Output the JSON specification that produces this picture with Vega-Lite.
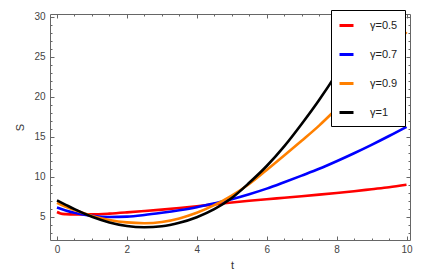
{
  "$schema": "https://vega.github.io/schema/vega-lite/v6.json",
  "autosize": "none",
  "width": 360,
  "height": 226,
  "padding": {"left": 50, "top": 14, "right": 15, "bottom": 34},
  "background": "white",
  "config": {
    "view": {"stroke": null},
    "font": "Liberation Sans",
    "axis": {
      "domainColor": "#666666",
      "domainWidth": 1,
      "tickColor": "#666666",
      "labelColor": "#444444",
      "labelFont": "Liberation Sans",
      "labelFontSize": 10,
      "titleFont": "Liberation Sans",
      "titleFontSize": 11,
      "titleFontWeight": "normal",
      "titleColor": "#333333",
      "grid": false,
      "labelOverlap": false
    }
  },
  "datasets": {
    "curves": [
      {"t": 0, "S": 5.6, "g": "γ=0.5"}, {"t": 0.1, "S": 5.42, "g": "γ=0.5"}, {"t": 0.25, "S": 5.33, "g": "γ=0.5"}, {"t": 0.5, "S": 5.28, "g": "γ=0.5"}, {"t": 1, "S": 5.3, "g": "γ=0.5"}, {"t": 1.5, "S": 5.4, "g": "γ=0.5"}, {"t": 2, "S": 5.55, "g": "γ=0.5"}, {"t": 2.5, "S": 5.72, "g": "γ=0.5"}, {"t": 3, "S": 5.9, "g": "γ=0.5"}, {"t": 3.5, "S": 6.1, "g": "γ=0.5"}, {"t": 4, "S": 6.32, "g": "γ=0.5"}, {"t": 4.5, "S": 6.55, "g": "γ=0.5"}, {"t": 5, "S": 6.78, "g": "γ=0.5"}, {"t": 5.5, "S": 7.0, "g": "γ=0.5"}, {"t": 6, "S": 7.2, "g": "γ=0.5"}, {"t": 6.5, "S": 7.38, "g": "γ=0.5"}, {"t": 7, "S": 7.57, "g": "γ=0.5"}, {"t": 7.5, "S": 7.77, "g": "γ=0.5"}, {"t": 8, "S": 7.98, "g": "γ=0.5"}, {"t": 8.5, "S": 8.2, "g": "γ=0.5"}, {"t": 9, "S": 8.45, "g": "γ=0.5"}, {"t": 9.5, "S": 8.7, "g": "γ=0.5"}, {"t": 10, "S": 9.0, "g": "γ=0.5"},
      {"t": 0, "S": 6.15, "g": "γ=0.7"}, {"t": 0.25, "S": 5.8, "g": "γ=0.7"}, {"t": 0.5, "S": 5.5, "g": "γ=0.7"}, {"t": 1, "S": 5.12, "g": "γ=0.7"}, {"t": 1.5, "S": 4.97, "g": "γ=0.7"}, {"t": 2, "S": 5.02, "g": "γ=0.7"}, {"t": 2.5, "S": 5.22, "g": "γ=0.7"}, {"t": 3, "S": 5.5, "g": "γ=0.7"}, {"t": 3.5, "S": 5.82, "g": "γ=0.7"}, {"t": 4, "S": 6.2, "g": "γ=0.7"}, {"t": 4.5, "S": 6.68, "g": "γ=0.7"}, {"t": 5, "S": 7.2, "g": "γ=0.7"}, {"t": 5.5, "S": 7.82, "g": "γ=0.7"}, {"t": 6, "S": 8.52, "g": "γ=0.7"}, {"t": 6.5, "S": 9.32, "g": "γ=0.7"}, {"t": 7, "S": 10.15, "g": "γ=0.7"}, {"t": 7.5, "S": 11.0, "g": "γ=0.7"}, {"t": 8, "S": 11.95, "g": "γ=0.7"}, {"t": 8.5, "S": 12.95, "g": "γ=0.7"}, {"t": 9, "S": 14.0, "g": "γ=0.7"}, {"t": 9.5, "S": 15.1, "g": "γ=0.7"}, {"t": 10, "S": 16.25, "g": "γ=0.7"},
      {"t": 0, "S": 6.75, "g": "γ=0.9"}, {"t": 0.25, "S": 6.25, "g": "γ=0.9"}, {"t": 0.5, "S": 5.85, "g": "γ=0.9"}, {"t": 1, "S": 5.1, "g": "γ=0.9"}, {"t": 1.5, "S": 4.6, "g": "γ=0.9"}, {"t": 2, "S": 4.3, "g": "γ=0.9"}, {"t": 2.5, "S": 4.2, "g": "γ=0.9"}, {"t": 3, "S": 4.35, "g": "γ=0.9"}, {"t": 3.5, "S": 4.8, "g": "γ=0.9"}, {"t": 4, "S": 5.5, "g": "γ=0.9"}, {"t": 4.5, "S": 6.45, "g": "γ=0.9"}, {"t": 5, "S": 7.65, "g": "γ=0.9"}, {"t": 5.5, "S": 9.1, "g": "γ=0.9"}, {"t": 6, "S": 10.85, "g": "γ=0.9"}, {"t": 6.5, "S": 12.65, "g": "γ=0.9"}, {"t": 7, "S": 14.5, "g": "γ=0.9"}, {"t": 7.5, "S": 16.4, "g": "γ=0.9"}, {"t": 8, "S": 18.5, "g": "γ=0.9"}, {"t": 8.5, "S": 20.7, "g": "γ=0.9"}, {"t": 9, "S": 23.0, "g": "γ=0.9"}, {"t": 9.5, "S": 25.5, "g": "γ=0.9"}, {"t": 10, "S": 28.1, "g": "γ=0.9"},
      {"t": 0, "S": 7.05, "g": "γ=1"}, {"t": 0.25, "S": 6.5, "g": "γ=1"}, {"t": 0.5, "S": 5.95, "g": "γ=1"}, {"t": 1, "S": 5.0, "g": "γ=1"}, {"t": 1.5, "S": 4.3, "g": "γ=1"}, {"t": 2, "S": 3.85, "g": "γ=1"}, {"t": 2.5, "S": 3.7, "g": "γ=1"}, {"t": 3, "S": 3.82, "g": "γ=1"}, {"t": 3.5, "S": 4.25, "g": "γ=1"}, {"t": 4, "S": 4.95, "g": "γ=1"}, {"t": 4.5, "S": 5.95, "g": "γ=1"}, {"t": 5, "S": 7.35, "g": "γ=1"}, {"t": 5.5, "S": 9.25, "g": "γ=1"}, {"t": 6, "S": 11.35, "g": "γ=1"}, {"t": 6.5, "S": 13.8, "g": "γ=1"}, {"t": 7, "S": 16.6, "g": "γ=1"}, {"t": 7.5, "S": 19.6, "g": "γ=1"}, {"t": 8, "S": 22.9, "g": "γ=1"}, {"t": 8.5, "S": 26.5, "g": "γ=1"}, {"t": 9, "S": 30.5, "g": "γ=1"}, {"t": 9.5, "S": 34.5, "g": "γ=1"}, {"t": 10, "S": 39, "g": "γ=1"}
    ]
  },
  "data": {"name": "curves"},
  "layer": [
    {
      "mark": {"type": "line", "clip": true, "strokeWidth": 2.6, "interpolate": "monotone"},
      "encoding": {
        "x": {
          "field": "t", "type": "quantitative",
          "scale": {"domain": [-0.2, 10.1], "nice": false, "zero": false},
          "axis": {
            "orient": "bottom",
            "title": "t",
            "values": [0, 0.5, 1, 1.5, 2, 2.5, 3, 3.5, 4, 4.5, 5, 5.5, 6, 6.5, 7, 7.5, 8, 8.5, 9, 9.5, 10],
            "labelExpr": "datum.value % 2 === 0 ? format(datum.value, 'd') : ''",
            "tickSize": {"condition": {"test": "datum.value % 2 === 0", "value": -4}, "value": -2},
            "labelPadding": 8,
            "titleX": 182, "titleY": 25, "titleBaseline": "middle", "titleAlign": "center"
          }
        },
        "y": {
          "field": "S", "type": "quantitative",
          "scale": {"domain": [2.1, 30.35], "nice": false, "zero": false},
          "axis": {
            "orient": "left",
            "title": "S",
            "values": [3, 4, 5, 6, 7, 8, 9, 10, 11, 12, 13, 14, 15, 16, 17, 18, 19, 20, 21, 22, 23, 24, 25, 26, 27, 28, 29, 30],
            "labelExpr": "datum.value % 5 === 0 ? format(datum.value, 'd') : ''",
            "tickSize": {"condition": {"test": "datum.value % 5 === 0", "value": -4}, "value": -2},
            "labelPadding": 9,
            "titleX": -30, "titleY": 113, "titleBaseline": "middle", "titleAlign": "center", "titleAngle": -90
          }
        },
        "color": {
          "field": "g", "type": "nominal",
          "sort": ["γ=0.5", "γ=0.7", "γ=0.9", "γ=1"],
          "scale": {"domain": ["γ=0.5", "γ=0.7", "γ=0.9", "γ=1"], "range": ["#ff0000", "#0000ff", "#ff8000", "#000000"]},
          "legend": {
            "title": null,
            "orient": "none",
            "legendX": 281,
            "legendY": -4,
            "fillColor": "white",
            "strokeColor": "black",
            "padding": 7,
            "symbolType": "stroke",
            "symbolSize": 196,
            "symbolStrokeWidth": 3,
            "labelFont": "Liberation Sans",
            "labelFontSize": 11,
            "labelColor": "#222222",
            "labelOffset": 15,
            "rowPadding": 14
          }
        }
      }
    },
    {
      "mark": {"type": "line", "opacity": 0, "clip": true},
      "encoding": {
        "x": {
          "field": "t", "type": "quantitative",
          "axis": {
            "orient": "top",
            "title": null,
            "labels": false,
            "values": [0, 0.5, 1, 1.5, 2, 2.5, 3, 3.5, 4, 4.5, 5, 5.5, 6, 6.5, 7, 7.5, 8, 8.5, 9, 9.5, 10],
            "tickSize": {"condition": {"test": "datum.value % 2 === 0", "value": -4}, "value": -2}
          }
        },
        "y": {
          "field": "S", "type": "quantitative",
          "axis": {
            "orient": "right",
            "title": null,
            "labels": false,
            "values": [3, 4, 5, 6, 7, 8, 9, 10, 11, 12, 13, 14, 15, 16, 17, 18, 19, 20, 21, 22, 23, 24, 25, 26, 27, 28, 29, 30],
            "tickSize": {"condition": {"test": "datum.value % 5 === 0", "value": -4}, "value": -2}
          }
        },
        "detail": {"field": "g", "type": "nominal"}
      }
    }
  ],
  "resolve": {"axis": {"x": "independent", "y": "independent"}}
}
